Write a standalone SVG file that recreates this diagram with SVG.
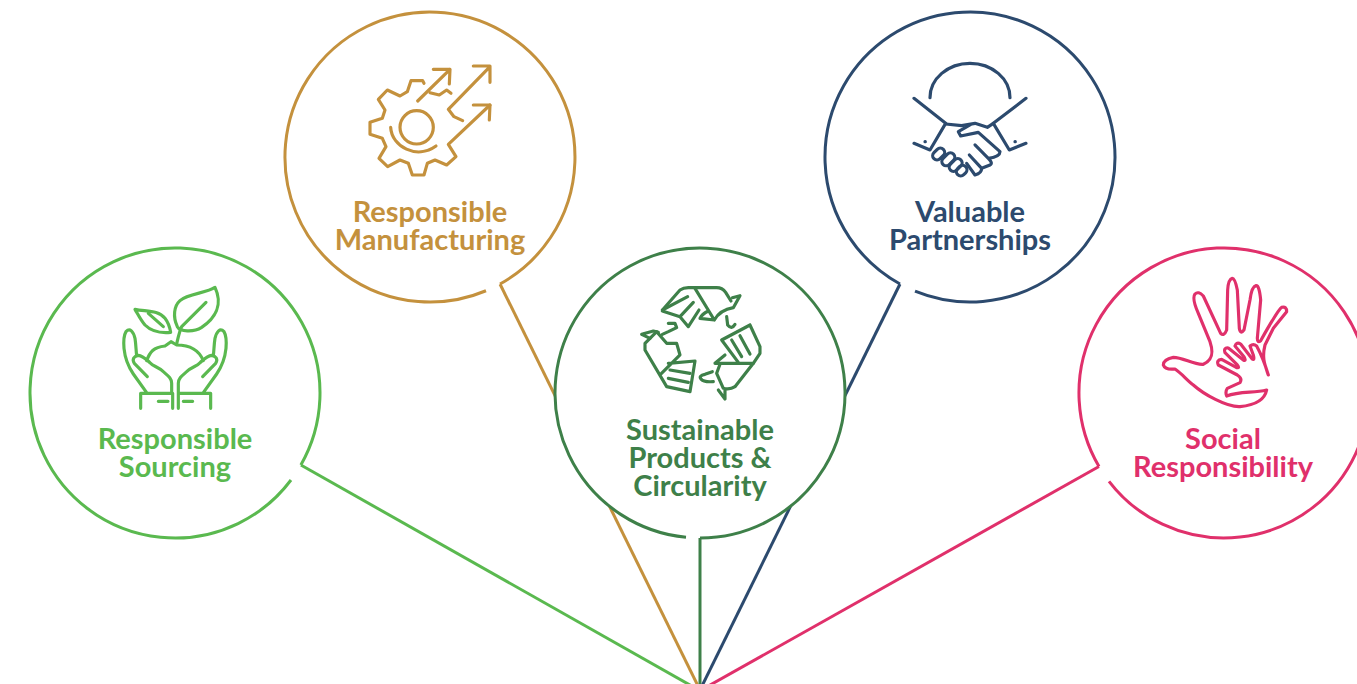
<svg xmlns="http://www.w3.org/2000/svg" width="1357" height="684" viewBox="0 0 1357 684">
<style>
text{font-family:Lato,"Liberation Sans",sans-serif;font-weight:700;font-size:29px;text-anchor:middle}
.c{fill:none;stroke-width:3}
.i{fill:none;stroke-width:9.500;stroke-linecap:round;stroke-linejoin:round}
.bg{fill:#fff}
.a{stroke:#5ab94f}.b{stroke:#c4913d}.d{stroke:#3e8049}.e{stroke:#2c4a6e}.f{stroke:#e0306b}
</style>
<rect width="1357" height="684" fill="#fff"/>
<g id="connectors">
<path class="c a" d="M300.860 465L697 689"/>
<path class="c b" d="M500 283.980L700 690"/>
<path class="c d" d="M700 538V686"/>
<path class="c e" d="M900 283.980L700 690"/>
<path class="c f" d="M1099 466.480L703 689"/>
</g>
<g id="sourcing">
<circle class="bg" cx="175" cy="393" r="145"/>
<path class="c a" d="M291 480A145 145 0 1 1 300.860 465"/>
<g class="i a" transform="translate(100 270) scale(.3333)">
<path d="M345 52C320 70 265 70 240 92C222 108 218 140 232 170C240 185 280 188 305 172C345 145 370 105 345 52Z"/>
<path d="M318 97L245 170C238 185 235 200 230 222"/>
<path d="M105 118C140 125 175 120 195 145C205 158 210 175 212 187C180 190 155 185 135 165C122 150 115 135 105 118Z"/>
<path d="M145 130L190 170"/>
<path d="M140 272C150 245 160 232 195 228L213 215L230 225C265 225 295 235 310 272"/>
<path d="M140 368L100 312C85 290 75 265 72 235C70 210 72 195 78 185C90 172 100 185 105 205C108 225 108 240 110 258M142 320L103 280C95 268 102 258 115 256C130 258 140 270 150 278C160 290 175 290 190 305C205 318 215 325 215 340V370H122V415M218 370V415M175 394H204"/>
<path d="M310 368L350 312C365 290 375 265 378 235C380 210 378 195 372 185C360 172 350 185 345 205C342 225 342 240 340 258M308 320L347 280C355 268 348 258 335 256C320 258 310 270 300 278C290 290 275 290 260 305C245 318 235 325 235 340V370H332V415M235 415V370M250 394H278"/>
</g>
<text fill="#5ab94f" x="175" y="449">Responsible<tspan x="175" dy="28">Sourcing</tspan></text>
</g>
<g id="manufacturing">
<circle class="bg" cx="430" cy="157" r="145"/>
<path class="c b" d="M486 290.750A145 145 0 1 1 500 283.980"/>
<g class="i b" transform="translate(350 50) scale(.3333)">
<path d="M222 100L218 92H183L172 125L150 138L112 120L85 148L105 180L97 205L60 217V253L97 265L108 290L87 325L113 350L150 330L175 340L187 375H222L232 340L255 330L290 345L318 320L295 283L420 165"/>
<path d="M240 128L268 135L290 120L303 130"/>
<path d="M203 153L300 58M250 58H300L298 102"/>
<path d="M338 212L312 200L295 178L420 50M370 48H420V97"/>
<path d="M370 165H420L418 210"/>
<circle cx="200" cy="232" r="50"/>
<path d="M122 232C125 290 200 330 258 288"/>
</g>
<text fill="#c4913d" x="430" y="222">Responsible<tspan x="430" dy="28">Manufacturing</tspan></text>
</g>
<g id="circularity">
<circle class="bg" cx="700" cy="393" r="145"/>
<path class="c d" d="M700 538A145 145 0 1 0 686 537.320"/>
<g class="i d" transform="translate(625 275) scale(.3333)">
<path d="M115 102L165 45Q175 38 190 38H275Q292 38 302 52L318 78"/>
<path d="M210 40L268 135L225 130Q230 118 250 108M268 135Q285 105 325 98L345 62L322 68"/>
<path d="M112 108L165 125L190 155L222 105M112 105L188 65M165 125L205 82"/>
<path d="M305 125L308 150Q320 165 330 148"/>
<path d="M375 150L290 195L340 262M375 150L405 215V235L385 265H270L300 240"/>
<path d="M345 182L375 237M320 195L350 245"/>
<path d="M285 268L275 295L295 340Q315 345 330 335L385 265M280 345L300 372V345M262 290L240 298Q220 302 228 312Q235 322 265 320"/>
<path d="M130 265L210 258L195 350L125 335L60 225V205L95 170L125 205L155 205L165 240L105 300"/>
<path d="M135 285L195 295M130 310L190 322"/>
<path d="M50 178L85 168L100 172M50 178L75 190M130 145L150 145L155 158L130 170L112 178"/>
</g>
<text fill="#3e8049" x="700" y="440">Sustainable<tspan x="700" dy="28">Products &amp;</tspan><tspan x="700" dy="28">Circularity</tspan></text>
</g>
<g id="partnerships">
<circle class="bg" cx="970" cy="157" r="145"/>
<path class="c e" d="M900 283.980A145 145 0 1 1 915 291.160"/>
<g class="i e" transform="translate(900 55) scale(.3333)">
<path d="M90 128A120 103 0 0 1 330 128"/>
<path d="M42 130L137 205L90 285L42 265M378 130L280 205L328 285L378 265"/>
<path d="M137 207L185 212L225 205L262 217L280 205"/>
<path d="M210 210L175 230L182 243L235 232L300 290Q300 305 265 310L225 270M265 310Q280 325 270 330L245 340L208 300M245 340Q245 355 225 360L200 325"/>
<rect x="96" y="284" width="40" height="26" rx="13" transform="rotate(-45 116 297)"/>
<rect x="123" y="300" width="44" height="26" rx="13" transform="rotate(-45 145 313)"/>
<rect x="145" y="317" width="44" height="26" rx="13" transform="rotate(-45 167 330)"/>
<rect x="168" y="334" width="34" height="26" rx="13" transform="rotate(-45 185 347)"/>
<path d="M75 260H76M345 260H346"/>
</g>
<text fill="#2c4a6e" x="970" y="222">Valuable<tspan x="970" dy="28">Partnerships</tspan></text>
</g>
<g id="social">
<circle class="bg" cx="1224" cy="393" r="145"/>
<path class="c f" d="M1099 466.480A145 145 0 1 1 1109 481.300"/>
<g class="i f" transform="translate(1150 270) scale(.3333)">
<path d="M355 315C345 285 335 265 345 225L370 175L410 125Q410 108 395 112Q385 118 332 212Q322 220 322 205L332 90Q328 45 318 47Q305 50 300 90L282 180Q272 195 268 175L262 60Q255 25 247 25Q235 28 233 60L230 180Q222 200 212 190L160 78Q145 62 135 72Q125 85 145 130L180 215C190 245 190 270 160 283C130 285 100 262 70 262Q40 268 40 285Q45 300 75 297C95 310 110 330 130 345C160 372 230 412 270 410C320 405 345 385 350 360C310 370 270 362 230 378Q225 365 232 355L270 338Q278 325 262 315L205 285Q198 270 215 268L260 293Q270 295 262 285L225 248Q220 232 235 234L280 270Q290 275 282 260L255 228Q260 215 272 222L305 265Q315 275 310 255L300 228Q310 220 320 228Q340 265 355 315Z"/>
</g>
<text fill="#e0306b" x="1223" y="449">Social<tspan x="1223" dy="28">Responsibility</tspan></text>
</g>
</svg>
